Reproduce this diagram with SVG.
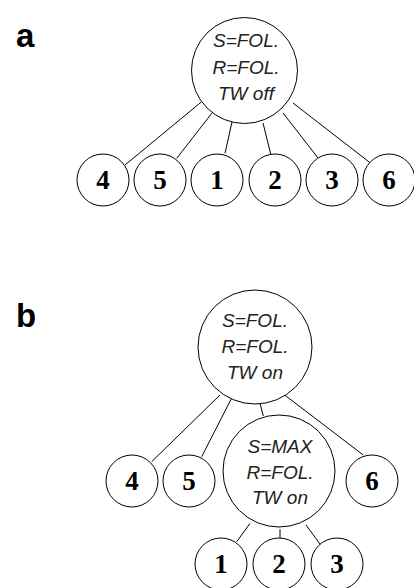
<svg xmlns="http://www.w3.org/2000/svg" width="414" height="588" viewBox="0 0 414 588">
<style>
.n{fill:#fff;stroke:#000;stroke-width:1}
.e{stroke:#000;stroke-width:1;fill:none}
.t{font-family:"Liberation Sans",Arial,sans-serif;font-style:italic;font-size:19px;fill:#222;text-anchor:middle}
.d{font-family:"Liberation Serif","Times New Roman",serif;font-weight:bold;font-size:27px;fill:#000;text-anchor:middle}
.p{font-family:"Liberation Sans",Arial,sans-serif;font-weight:bold;font-size:33px;fill:#000}
</style>
<rect width="414" height="588" fill="#fff"/>
<text class="p" x="16" y="47">a</text>
<text class="p" x="16" y="327">b</text>
<g id="connectors">
<line class="e" x1="201.7" y1="101.7" x2="125" y2="165"/>
<line class="e" x1="212" y1="113" x2="176.7" y2="158.3"/>
<line class="e" x1="232" y1="122" x2="225" y2="153.3"/>
<line class="e" x1="263" y1="123" x2="270.7" y2="154"/>
<line class="e" x1="283" y1="113" x2="318.3" y2="158.3"/>
<line class="e" x1="293" y1="103" x2="370" y2="162.7"/>
<line class="e" x1="220" y1="395" x2="151.7" y2="461.7"/>
<line class="e" x1="231.7" y1="398" x2="201.7" y2="456.7"/>
<line class="e" x1="260" y1="403.3" x2="263.3" y2="416"/>
<line class="e" x1="283.3" y1="394" x2="363.3" y2="455"/>
<line class="e" x1="250" y1="523.3" x2="236.7" y2="541.7"/>
<line class="e" x1="280" y1="529.3" x2="280" y2="538.3"/>
<line class="e" x1="306" y1="525" x2="320" y2="544"/>
</g>
<g id="a-root">
<circle class="n" cx="244.5" cy="70.5" r="53"/>
<text class="t" x="246" y="47">S=FOL.</text>
<text class="t" x="246" y="74">R=FOL.</text>
<text class="t" x="246" y="100">TW off</text>
</g>
<g id="a-4"><circle class="n" cx="103" cy="180" r="26"/><text class="d" x="103" y="189">4</text></g>
<g id="a-5"><circle class="n" cx="160" cy="180" r="26"/><text class="d" x="160" y="189">5</text></g>
<g id="a-1"><circle class="n" cx="217" cy="180" r="26"/><text class="d" x="217" y="189">1</text></g>
<g id="a-2"><circle class="n" cx="275" cy="180" r="26"/><text class="d" x="275" y="189">2</text></g>
<g id="a-3"><circle class="n" cx="332" cy="180" r="26"/><text class="d" x="332" y="189">3</text></g>
<g id="a-6"><circle class="n" cx="389" cy="180" r="26"/><text class="d" x="389" y="189">6</text></g>
<g id="b-root">
<circle class="n" cx="255" cy="347" r="57"/>
<text class="t" x="255" y="327">S=FOL.</text>
<text class="t" x="255" y="353">R=FOL.</text>
<text class="t" x="255" y="379">TW on</text>
</g>
<g id="b-sub">
<circle class="n" cx="279" cy="471" r="56"/>
<text class="t" x="280" y="453">S=MAX</text>
<text class="t" x="280" y="479">R=FOL.</text>
<text class="t" x="280" y="504">TW on</text>
</g>
<g id="b-4"><circle class="n" cx="132" cy="481" r="26"/><text class="d" x="132" y="490">4</text></g>
<g id="b-5"><circle class="n" cx="189" cy="481" r="26"/><text class="d" x="189" y="490">5</text></g>
<g id="b-6"><circle class="n" cx="372" cy="481" r="26"/><text class="d" x="372" y="490">6</text></g>
<g id="b-1"><circle class="n" cx="221" cy="564" r="26"/><text class="d" x="221" y="573">1</text></g>
<g id="b-2"><circle class="n" cx="279" cy="564" r="26"/><text class="d" x="279" y="573">2</text></g>
<g id="b-3"><circle class="n" cx="337" cy="564" r="26"/><text class="d" x="337" y="573">3</text></g>
</svg>
